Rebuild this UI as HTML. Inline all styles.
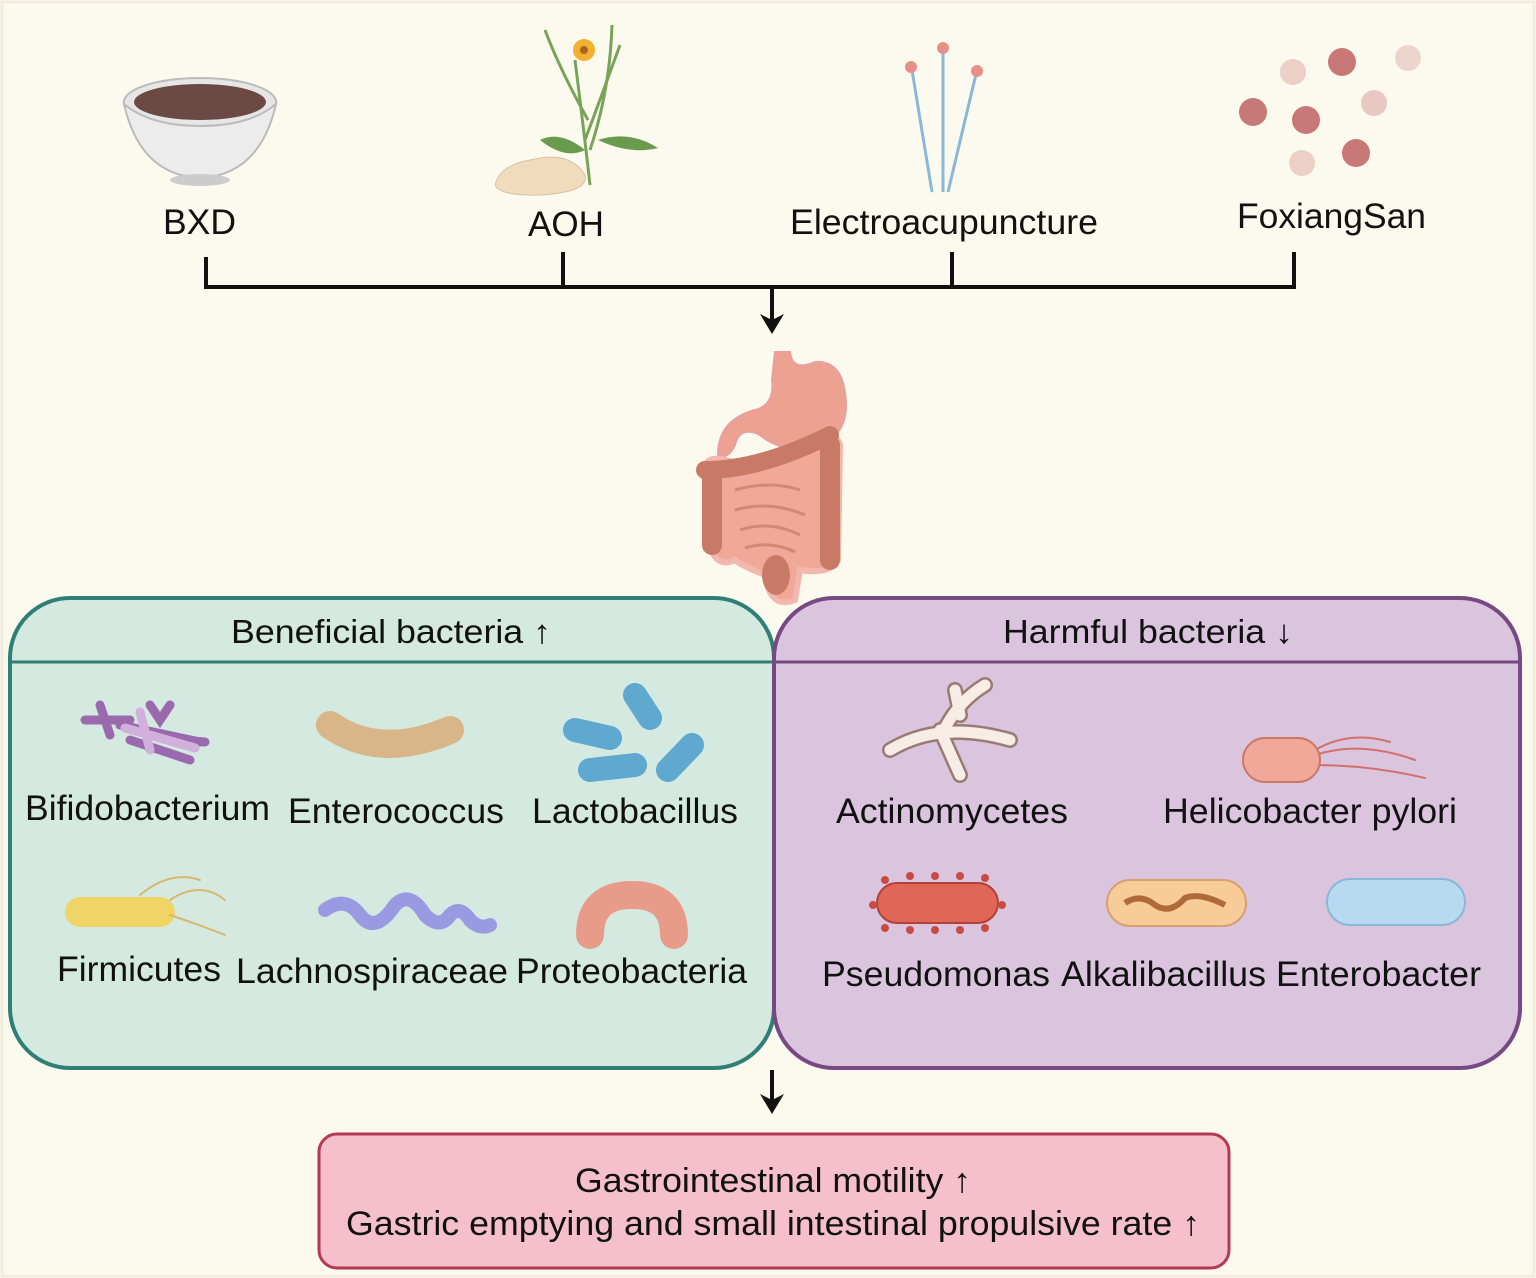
<!DOCTYPE html>
<html><head><meta charset="utf-8"><style>
html,body{margin:0;padding:0;background:#fcfaee;}
svg{display:block}
text{font-family:"Liberation Sans",sans-serif;fill:#111;}
</style></head><body>
<svg width="1536" height="1278" viewBox="0 0 1536 1278" xmlns="http://www.w3.org/2000/svg">
<rect x="0" y="0" width="1536" height="1278" fill="#fcfaee"/>
<rect x="2" y="2" width="1532" height="1274" fill="none" stroke="#f0ede0" stroke-width="3"/>

<!-- bowl -->
<ellipse cx="200" cy="102" rx="76" ry="24" fill="#e6e6e6" stroke="#bbb" stroke-width="2"/>
<ellipse cx="200" cy="102" rx="66" ry="18" fill="#6b4a44"/>
<path d="M124 104 Q140 175 200 178 Q260 175 276 104 Q250 126 200 126 Q150 126 124 104Z" fill="#ececec" stroke="#bbb" stroke-width="2"/>
<ellipse cx="200" cy="180" rx="30" ry="6" fill="#ccc"/>

<!-- AOH plant -->
<path d="M590 185 Q585 140 575 60 M585 140 Q600 100 620 45 M588 120 Q560 70 545 30 M590 150 Q610 90 612 25" stroke="#7aa35a" stroke-width="3" fill="none"/>
<path d="M598 140 Q630 130 658 148 Q630 155 598 140Z" fill="#6a9a4e"/>
<path d="M585 150 Q560 130 540 140 Q565 160 585 150Z" fill="#6a9a4e"/>
<circle cx="584" cy="50" r="11" fill="#f0b030"/><circle cx="584" cy="50" r="4" fill="#b06020"/>
<path d="M495 185 Q500 165 530 160 Q570 150 585 175 Q590 192 540 195 Q500 196 495 185Z" fill="#f0dcbc" stroke="#d8c0a0"/>

<!-- needles -->
<g stroke="#8ab8d8" stroke-width="3">
<line x1="912" y1="70" x2="932" y2="192"/><line x1="943" y1="50" x2="943" y2="192"/><line x1="976" y1="74" x2="948" y2="192"/>
</g>
<circle cx="911" cy="67" r="6" fill="#e89088"/><circle cx="943" cy="48" r="6" fill="#e89088"/><circle cx="977" cy="71" r="6" fill="#e89088"/>

<!-- pills -->
<g>
<circle cx="1342" cy="62" r="14" fill="#c87876"/><circle cx="1408" cy="58" r="13" fill="#ecd6cc"/>
<circle cx="1293" cy="72" r="13" fill="#ecd0c6"/><circle cx="1374" cy="103" r="13" fill="#e8c8c0"/>
<circle cx="1253" cy="112" r="14" fill="#c87876"/><circle cx="1306" cy="120" r="14" fill="#c87876"/>
<circle cx="1356" cy="153" r="14" fill="#c87876"/><circle cx="1302" cy="163" r="13" fill="#ecd0c6"/>
</g>

<g font-size="35" lengthAdjust="spacingAndGlyphs">
<text x="163" y="234" textLength="73" lengthAdjust="spacingAndGlyphs">BXD</text>
<text x="528" y="236" textLength="76" lengthAdjust="spacingAndGlyphs">AOH</text>
<text x="790" y="234" textLength="308" lengthAdjust="spacingAndGlyphs">Electroacupuncture</text>
<text x="1237" y="228" textLength="189" lengthAdjust="spacingAndGlyphs">FoxiangSan</text>
</g>

<!-- bracket -->
<g stroke="#111" stroke-width="4" fill="none">
<line x1="204" y1="287" x2="1296" y2="287"/>
<line x1="206" y1="257" x2="206" y2="289"/><line x1="563" y1="252" x2="563" y2="289"/>
<line x1="952" y1="252" x2="952" y2="289"/><line x1="1294" y1="252" x2="1294" y2="289"/>
<line x1="772" y1="287" x2="772" y2="330"/>
<line x1="772" y1="1070" x2="772" y2="1110"/>
</g>
<path d="M760 314 L772 334 L784 314 L772 320Z" fill="#111"/>
<path d="M760 1094 L772 1114 L784 1094 L772 1100Z" fill="#111"/>

<!-- green box -->
<rect x="10" y="598" width="764" height="470" rx="60" fill="#d4e9df" stroke="#2f7f76" stroke-width="4"/>
<line x1="10" y1="662" x2="774" y2="662" stroke="#2f7f76" stroke-width="3"/>
<!-- purple box -->
<rect x="774" y="598" width="746" height="470" rx="60" fill="#dbc5de" stroke="#774882" stroke-width="4"/>
<line x1="774" y1="662" x2="1520" y2="662" stroke="#774882" stroke-width="3"/>

<!-- GI tract -->
<g>
<path d="M775 352 L790 352 Q792 372 815 362 Q845 360 846 405 Q846 440 810 448 Q780 452 760 435 Q740 425 735 445 Q728 460 718 455 Q718 420 755 410 Q775 405 772 380Z" fill="#eda190" stroke="#e8a0a0" stroke-width="2"/>
<path d="M725 460 Q760 470 805 440 Q835 428 840 445 L838 560 Q830 575 800 570 L795 600 Q770 610 765 575 Q740 565 735 560 Q715 570 708 540 L705 470 Q705 455 725 460Z" fill="#f0a898" stroke="#f2b8b0" stroke-width="6"/>
<path d="M705 470 Q760 470 830 435" stroke="#c87a66" stroke-width="18" fill="none" stroke-linecap="round"/>
<path d="M712 472 L712 545 M830 445 L830 560" stroke="#c87a66" stroke-width="20" fill="none" stroke-linecap="round"/>
<ellipse cx="776" cy="575" rx="14" ry="20" fill="#c87a66"/>
<path d="M735 490 Q770 480 800 490 M735 510 Q770 500 805 515 M740 530 Q770 520 800 535 M745 548 Q770 540 795 552" stroke="#d08878" stroke-width="3" fill="none"/>
</g>

<g font-size="33">
<text x="231" y="643" textLength="320" lengthAdjust="spacingAndGlyphs">Beneficial bacteria ↑</text>
<text x="1003" y="643" textLength="290" lengthAdjust="spacingAndGlyphs">Harmful bacteria ↓</text>
</g>

<!-- beneficial icons -->
<g stroke-linecap="round" fill="none">
<path d="M85 720 L130 720 M100 705 L110 735 M120 725 L200 742 M150 705 L160 720 L170 705 M130 740 L190 760 M180 740 L205 742" stroke="#9b6aae" stroke-width="9"/>
<path d="M125 728 L195 748 M140 712 L150 750" stroke="#d2b0dc" stroke-width="9"/>
<path d="M330 725 Q380 760 450 730" stroke="#d8b688" stroke-width="28"/>
<path d="M575 730 L610 738 M635 695 L650 718 M590 770 L635 765 M668 770 L692 745" stroke="#5fa8d0" stroke-width="24"/>
<path d="M80 912 L160 912" stroke="#f0d466" stroke-width="30"/>
<path d="M170 900 Q200 880 225 900 M170 915 Q200 925 225 935 M140 895 Q170 870 200 880" stroke="#d8b870" stroke-width="2"/>
<path d="M325 910 Q345 895 360 915 Q375 935 395 905 Q410 890 425 915 Q440 930 450 915 Q460 905 470 920 Q480 930 490 925" stroke="#9a9ae2" stroke-width="14"/>
<path d="M590 935 Q590 895 632 895 Q674 895 674 935" stroke="#e99b8a" stroke-width="28"/>
</g>
<g font-size="35">
<text x="25" y="820" textLength="245" lengthAdjust="spacingAndGlyphs">Bifidobacterium</text>
<text x="288" y="823" textLength="216" lengthAdjust="spacingAndGlyphs">Enterococcus</text>
<text x="532" y="823" textLength="206" lengthAdjust="spacingAndGlyphs">Lactobacillus</text>
<text x="57" y="981" textLength="164" lengthAdjust="spacingAndGlyphs">Firmicutes</text>
<text x="236" y="983" textLength="272" lengthAdjust="spacingAndGlyphs">Lachnospiraceae</text>
<text x="516" y="983" textLength="231" lengthAdjust="spacingAndGlyphs">Proteobacteria</text>
</g>

<!-- harmful icons -->
<g stroke-linecap="round" fill="none">
<path d="M890 750 Q940 720 1010 740 M940 730 L960 775 M945 728 Q960 700 985 685 M960 715 L955 690" stroke="#9a7a72" stroke-width="16"/>
<path d="M890 750 Q940 720 1010 740 M940 730 L960 775 M945 728 Q960 700 985 685 M960 715 L955 690" stroke="#f8ece6" stroke-width="11"/>
<path d="M1315 755 Q1360 740 1415 760 M1315 765 Q1370 765 1425 778 M1315 750 Q1350 730 1390 742" stroke="#d4706c" stroke-width="2"/>
</g>
<rect x="1243" y="738" width="77" height="44" rx="22" fill="#f1a898" stroke="#c87868" stroke-width="2"/>
<rect x="877" y="883" width="121" height="40" rx="20" fill="#e06658" stroke="#b0423a" stroke-width="2"/>
<g fill="#c84a44">
<circle cx="885" cy="880" r="4"/><circle cx="910" cy="876" r="4"/><circle cx="935" cy="876" r="4"/><circle cx="960" cy="876" r="4"/><circle cx="985" cy="878" r="4"/>
<circle cx="873" cy="905" r="4"/><circle cx="1002" cy="905" r="4"/>
<circle cx="885" cy="928" r="4"/><circle cx="910" cy="930" r="4"/><circle cx="935" cy="930" r="4"/><circle cx="960" cy="930" r="4"/><circle cx="985" cy="928" r="4"/>
</g>
<rect x="1107" y="880" width="139" height="46" rx="23" fill="#f8cc98" stroke="#d8a070" stroke-width="2"/>
<path d="M1125 903 Q1140 893 1155 905 Q1170 915 1185 898 Q1200 892 1225 905" stroke="#b06a3a" stroke-width="6" fill="none"/>
<rect x="1327" y="879" width="138" height="46" rx="23" fill="#b8daf0" stroke="#8ab8d8" stroke-width="2"/>
<g font-size="35">
<text x="836" y="823" textLength="232" lengthAdjust="spacingAndGlyphs">Actinomycetes</text>
<text x="1163" y="823" textLength="294" lengthAdjust="spacingAndGlyphs">Helicobacter pylori</text>
<text x="822" y="986" textLength="228" lengthAdjust="spacingAndGlyphs">Pseudomonas</text>
<text x="1061" y="986" textLength="205" lengthAdjust="spacingAndGlyphs">Alkalibacillus</text>
<text x="1276" y="986" textLength="205" lengthAdjust="spacingAndGlyphs">Enterobacter</text>
</g>

<!-- bottom box -->
<rect x="319" y="1134" width="910" height="134" rx="18" fill="#f5bfcb" stroke="#b33a52" stroke-width="3"/>
<g font-size="34">
<text x="575" y="1192" textLength="396" lengthAdjust="spacingAndGlyphs">Gastrointestinal motility ↑</text>
<text x="346" y="1235" textLength="854" lengthAdjust="spacingAndGlyphs">Gastric emptying and small intestinal propulsive rate ↑</text>
</g>
</svg>
</body></html>
